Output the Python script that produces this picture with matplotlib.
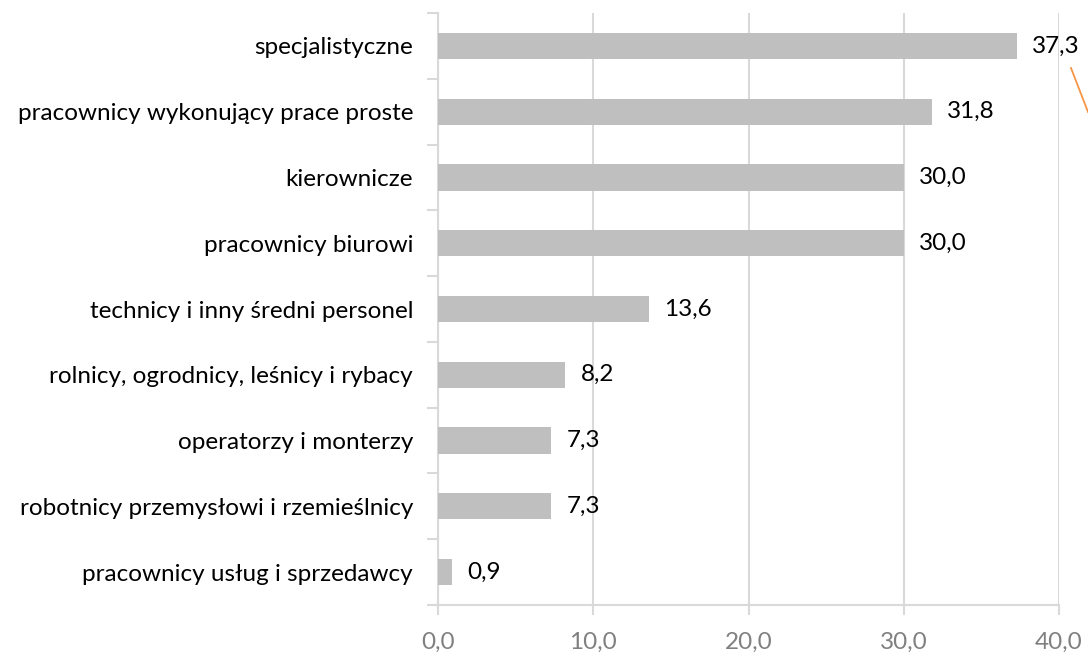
import matplotlib
matplotlib.use("Agg")
import matplotlib.pyplot as plt
import numpy as np
from matplotlib.lines import Line2D

categories = [
    "specjalistyczne",
    "pracownicy wykonujący prace proste",
    "kierownicze",
    "pracownicy biurowi",
    "technicy i inny średni personel",
    "rolnicy, ogrodnicy, leśnicy i rybacy",
    "operatorzy i monterzy",
    "robotnicy przemysłowi i rzemieślnicy",
    "pracownicy usług i sprzedawcy",
]
values = [37.3, 31.8, 30.0, 30.0, 13.6, 8.2, 7.3, 7.3, 0.9]
xticks = [0, 10, 20, 30, 40]

plt.rcParams['font.family'] = ['Lato', 'DejaVu Sans']
FS = 17.5

fig = plt.figure(figsize=(10.88, 6.55), dpi=100)
ax = fig.add_axes([438/1088, 1-605/655, (1059-438)/1088, (605-13)/655])

n = len(categories)
y = np.arange(n)[::-1]
grid_c = "#d9d9d9"
ax.barh(y, values, height=0.4, color="#bfbfbf", zorder=3)
ax.set_xlim(0, 40)
ax.set_ylim(-0.5, n-0.5)
ax.set_xticks(xticks)
ax.set_xticklabels([f"{v:.1f}".replace(".", ",") for v in xticks], color="#808080", fontsize=FS)
ax.set_yticks(y)
ax.set_yticklabels(categories, fontsize=FS, color="black")
ax.set_yticks(np.arange(-0.5, n), minor=True)
ax.tick_params(axis='y', which='major', length=0, pad=18)
ax.tick_params(axis='y', which='minor', length=8, color=grid_c, width=1.5)
ax.tick_params(axis='x', which='major', length=7, color=grid_c, width=1.5, pad=12)
ax.grid(axis='x', color=grid_c, linewidth=1.5, zorder=0)
for s in ['top', 'right']:
    ax.spines[s].set_visible(False)
ax.spines['left'].set_color(grid_c)
ax.spines['left'].set_linewidth(1.5)
ax.spines['bottom'].set_color(grid_c)
ax.spines['bottom'].set_linewidth(1.5)

for yi, v in zip(y, values):
    ax.annotate(f"{v:.1f}".replace(".", ","), (v, yi), xytext=(11, 0), textcoords="offset points",
                va="center", ha="left", fontsize=FS, color="black", zorder=4)

# leader line (partially visible at right edge)
fig.add_artist(Line2D([1071/1088, 1088/1088], [1-68/655, 1-112/655], color="#f79646", linewidth=1.3))

fig.savefig("out.png", dpi=100)
